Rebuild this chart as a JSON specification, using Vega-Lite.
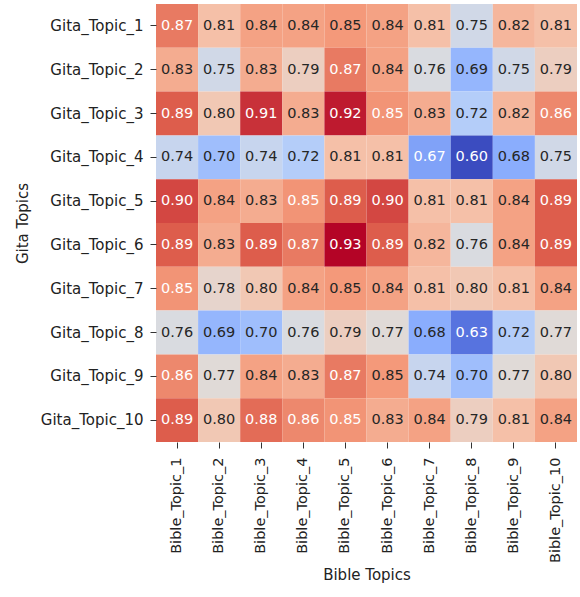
{
  "$schema": "https://vega.github.io/schema/vega-lite/v6.json",
  "width": 421,
  "height": 438,
  "autosize": {"type": "none"},
  "padding": {"left": 156, "top": 4, "right": 3, "bottom": 155},
  "background": "white",
  "config": {
    "view": {"stroke": null},
    "font": "DejaVu Sans",
    "axis": {
      "domain": false,
      "ticks": true,
      "tickSize": 6,
      "tickColor": "#333333",
      "tickWidth": 1,
      "labelFont": "DejaVu Sans",
      "labelFontSize": 15,
      "labelColor": "#222222",
      "labelPadding": 7,
      "titleFont": "DejaVu Sans",
      "titleFontSize": 15,
      "titleFontWeight": "normal",
      "titleColor": "#222222",
      "grid": false
    }
  },
  "data": {
    "values": [
      {"gita": "Gita_Topic_1", "bible": "Bible_Topic_1", "value": 0.87},
      {"gita": "Gita_Topic_1", "bible": "Bible_Topic_2", "value": 0.81},
      {"gita": "Gita_Topic_1", "bible": "Bible_Topic_3", "value": 0.84},
      {"gita": "Gita_Topic_1", "bible": "Bible_Topic_4", "value": 0.84},
      {"gita": "Gita_Topic_1", "bible": "Bible_Topic_5", "value": 0.848},
      {"gita": "Gita_Topic_1", "bible": "Bible_Topic_6", "value": 0.84},
      {"gita": "Gita_Topic_1", "bible": "Bible_Topic_7", "value": 0.81},
      {"gita": "Gita_Topic_1", "bible": "Bible_Topic_8", "value": 0.75},
      {"gita": "Gita_Topic_1", "bible": "Bible_Topic_9", "value": 0.82},
      {"gita": "Gita_Topic_1", "bible": "Bible_Topic_10", "value": 0.81},
      {"gita": "Gita_Topic_2", "bible": "Bible_Topic_1", "value": 0.83},
      {"gita": "Gita_Topic_2", "bible": "Bible_Topic_2", "value": 0.75},
      {"gita": "Gita_Topic_2", "bible": "Bible_Topic_3", "value": 0.83},
      {"gita": "Gita_Topic_2", "bible": "Bible_Topic_4", "value": 0.79},
      {"gita": "Gita_Topic_2", "bible": "Bible_Topic_5", "value": 0.87},
      {"gita": "Gita_Topic_2", "bible": "Bible_Topic_6", "value": 0.84},
      {"gita": "Gita_Topic_2", "bible": "Bible_Topic_7", "value": 0.76},
      {"gita": "Gita_Topic_2", "bible": "Bible_Topic_8", "value": 0.69},
      {"gita": "Gita_Topic_2", "bible": "Bible_Topic_9", "value": 0.75},
      {"gita": "Gita_Topic_2", "bible": "Bible_Topic_10", "value": 0.79},
      {"gita": "Gita_Topic_3", "bible": "Bible_Topic_1", "value": 0.89},
      {"gita": "Gita_Topic_3", "bible": "Bible_Topic_2", "value": 0.80},
      {"gita": "Gita_Topic_3", "bible": "Bible_Topic_3", "value": 0.91},
      {"gita": "Gita_Topic_3", "bible": "Bible_Topic_4", "value": 0.83},
      {"gita": "Gita_Topic_3", "bible": "Bible_Topic_5", "value": 0.92},
      {"gita": "Gita_Topic_3", "bible": "Bible_Topic_6", "value": 0.852},
      {"gita": "Gita_Topic_3", "bible": "Bible_Topic_7", "value": 0.83},
      {"gita": "Gita_Topic_3", "bible": "Bible_Topic_8", "value": 0.72},
      {"gita": "Gita_Topic_3", "bible": "Bible_Topic_9", "value": 0.82},
      {"gita": "Gita_Topic_3", "bible": "Bible_Topic_10", "value": 0.86},
      {"gita": "Gita_Topic_4", "bible": "Bible_Topic_1", "value": 0.74},
      {"gita": "Gita_Topic_4", "bible": "Bible_Topic_2", "value": 0.70},
      {"gita": "Gita_Topic_4", "bible": "Bible_Topic_3", "value": 0.74},
      {"gita": "Gita_Topic_4", "bible": "Bible_Topic_4", "value": 0.72},
      {"gita": "Gita_Topic_4", "bible": "Bible_Topic_5", "value": 0.81},
      {"gita": "Gita_Topic_4", "bible": "Bible_Topic_6", "value": 0.81},
      {"gita": "Gita_Topic_4", "bible": "Bible_Topic_7", "value": 0.67},
      {"gita": "Gita_Topic_4", "bible": "Bible_Topic_8", "value": 0.60},
      {"gita": "Gita_Topic_4", "bible": "Bible_Topic_9", "value": 0.68},
      {"gita": "Gita_Topic_4", "bible": "Bible_Topic_10", "value": 0.75},
      {"gita": "Gita_Topic_5", "bible": "Bible_Topic_1", "value": 0.90},
      {"gita": "Gita_Topic_5", "bible": "Bible_Topic_2", "value": 0.84},
      {"gita": "Gita_Topic_5", "bible": "Bible_Topic_3", "value": 0.83},
      {"gita": "Gita_Topic_5", "bible": "Bible_Topic_4", "value": 0.852},
      {"gita": "Gita_Topic_5", "bible": "Bible_Topic_5", "value": 0.89},
      {"gita": "Gita_Topic_5", "bible": "Bible_Topic_6", "value": 0.90},
      {"gita": "Gita_Topic_5", "bible": "Bible_Topic_7", "value": 0.81},
      {"gita": "Gita_Topic_5", "bible": "Bible_Topic_8", "value": 0.81},
      {"gita": "Gita_Topic_5", "bible": "Bible_Topic_9", "value": 0.84},
      {"gita": "Gita_Topic_5", "bible": "Bible_Topic_10", "value": 0.89},
      {"gita": "Gita_Topic_6", "bible": "Bible_Topic_1", "value": 0.89},
      {"gita": "Gita_Topic_6", "bible": "Bible_Topic_2", "value": 0.83},
      {"gita": "Gita_Topic_6", "bible": "Bible_Topic_3", "value": 0.89},
      {"gita": "Gita_Topic_6", "bible": "Bible_Topic_4", "value": 0.87},
      {"gita": "Gita_Topic_6", "bible": "Bible_Topic_5", "value": 0.93},
      {"gita": "Gita_Topic_6", "bible": "Bible_Topic_6", "value": 0.89},
      {"gita": "Gita_Topic_6", "bible": "Bible_Topic_7", "value": 0.82},
      {"gita": "Gita_Topic_6", "bible": "Bible_Topic_8", "value": 0.76},
      {"gita": "Gita_Topic_6", "bible": "Bible_Topic_9", "value": 0.84},
      {"gita": "Gita_Topic_6", "bible": "Bible_Topic_10", "value": 0.89},
      {"gita": "Gita_Topic_7", "bible": "Bible_Topic_1", "value": 0.852},
      {"gita": "Gita_Topic_7", "bible": "Bible_Topic_2", "value": 0.78},
      {"gita": "Gita_Topic_7", "bible": "Bible_Topic_3", "value": 0.80},
      {"gita": "Gita_Topic_7", "bible": "Bible_Topic_4", "value": 0.84},
      {"gita": "Gita_Topic_7", "bible": "Bible_Topic_5", "value": 0.848},
      {"gita": "Gita_Topic_7", "bible": "Bible_Topic_6", "value": 0.84},
      {"gita": "Gita_Topic_7", "bible": "Bible_Topic_7", "value": 0.81},
      {"gita": "Gita_Topic_7", "bible": "Bible_Topic_8", "value": 0.80},
      {"gita": "Gita_Topic_7", "bible": "Bible_Topic_9", "value": 0.81},
      {"gita": "Gita_Topic_7", "bible": "Bible_Topic_10", "value": 0.84},
      {"gita": "Gita_Topic_8", "bible": "Bible_Topic_1", "value": 0.76},
      {"gita": "Gita_Topic_8", "bible": "Bible_Topic_2", "value": 0.69},
      {"gita": "Gita_Topic_8", "bible": "Bible_Topic_3", "value": 0.70},
      {"gita": "Gita_Topic_8", "bible": "Bible_Topic_4", "value": 0.76},
      {"gita": "Gita_Topic_8", "bible": "Bible_Topic_5", "value": 0.79},
      {"gita": "Gita_Topic_8", "bible": "Bible_Topic_6", "value": 0.77},
      {"gita": "Gita_Topic_8", "bible": "Bible_Topic_7", "value": 0.68},
      {"gita": "Gita_Topic_8", "bible": "Bible_Topic_8", "value": 0.63},
      {"gita": "Gita_Topic_8", "bible": "Bible_Topic_9", "value": 0.72},
      {"gita": "Gita_Topic_8", "bible": "Bible_Topic_10", "value": 0.77},
      {"gita": "Gita_Topic_9", "bible": "Bible_Topic_1", "value": 0.86},
      {"gita": "Gita_Topic_9", "bible": "Bible_Topic_2", "value": 0.77},
      {"gita": "Gita_Topic_9", "bible": "Bible_Topic_3", "value": 0.84},
      {"gita": "Gita_Topic_9", "bible": "Bible_Topic_4", "value": 0.83},
      {"gita": "Gita_Topic_9", "bible": "Bible_Topic_5", "value": 0.87},
      {"gita": "Gita_Topic_9", "bible": "Bible_Topic_6", "value": 0.848},
      {"gita": "Gita_Topic_9", "bible": "Bible_Topic_7", "value": 0.74},
      {"gita": "Gita_Topic_9", "bible": "Bible_Topic_8", "value": 0.70},
      {"gita": "Gita_Topic_9", "bible": "Bible_Topic_9", "value": 0.77},
      {"gita": "Gita_Topic_9", "bible": "Bible_Topic_10", "value": 0.80},
      {"gita": "Gita_Topic_10", "bible": "Bible_Topic_1", "value": 0.89},
      {"gita": "Gita_Topic_10", "bible": "Bible_Topic_2", "value": 0.80},
      {"gita": "Gita_Topic_10", "bible": "Bible_Topic_3", "value": 0.88},
      {"gita": "Gita_Topic_10", "bible": "Bible_Topic_4", "value": 0.86},
      {"gita": "Gita_Topic_10", "bible": "Bible_Topic_5", "value": 0.852},
      {"gita": "Gita_Topic_10", "bible": "Bible_Topic_6", "value": 0.83},
      {"gita": "Gita_Topic_10", "bible": "Bible_Topic_7", "value": 0.84},
      {"gita": "Gita_Topic_10", "bible": "Bible_Topic_8", "value": 0.79},
      {"gita": "Gita_Topic_10", "bible": "Bible_Topic_9", "value": 0.81},
      {"gita": "Gita_Topic_10", "bible": "Bible_Topic_10", "value": 0.84}
    ]
  },
  "encoding": {
    "x": {
      "field": "bible", "type": "nominal", "title": "Bible Topics",
      "sort": ["Bible_Topic_1","Bible_Topic_2","Bible_Topic_3","Bible_Topic_4","Bible_Topic_5","Bible_Topic_6","Bible_Topic_7","Bible_Topic_8","Bible_Topic_9","Bible_Topic_10"],
      "scale": {"paddingInner": 0, "paddingOuter": 0},
      "axis": {"labelAngle": -90, "labelFontSize": 14.5, "labelPadding": 9, "titlePadding": 5}
    },
    "y": {
      "field": "gita", "type": "nominal", "title": "Gita Topics",
      "sort": ["Gita_Topic_1","Gita_Topic_2","Gita_Topic_3","Gita_Topic_4","Gita_Topic_5","Gita_Topic_6","Gita_Topic_7","Gita_Topic_8","Gita_Topic_9","Gita_Topic_10"],
      "scale": {"paddingInner": 0, "paddingOuter": 0},
      "axis": {"labelPadding": 7, "titlePadding": 10}
    }
  },
  "layer": [
    {
      "mark": {"type": "rect"},
      "encoding": {
        "color": {
          "field": "value", "type": "quantitative", "legend": null,
          "scale": {
            "domain": [0.60, 0.64125, 0.6825, 0.72375, 0.765, 0.80625, 0.8475, 0.88875, 0.93],
            "range": ["#3b4cc0", "#6282ea", "#8db0fe", "#b8d0f9", "#dddddd", "#f5c4ad", "#f49a7b", "#de604d", "#b40426"],
            "interpolate": "rgb"
          }
        }
      }
    },
    {
      "mark": {"type": "text", "font": "DejaVu Sans", "fontSize": 14.5},
      "encoding": {
        "text": {"field": "value", "type": "quantitative", "format": ".2f"},
        "color": {
          "condition": {"test": "datum.value > 0.85 || datum.value < 0.675", "value": "#ffffff"},
          "value": "#262626"
        }
      }
    }
  ]
}
